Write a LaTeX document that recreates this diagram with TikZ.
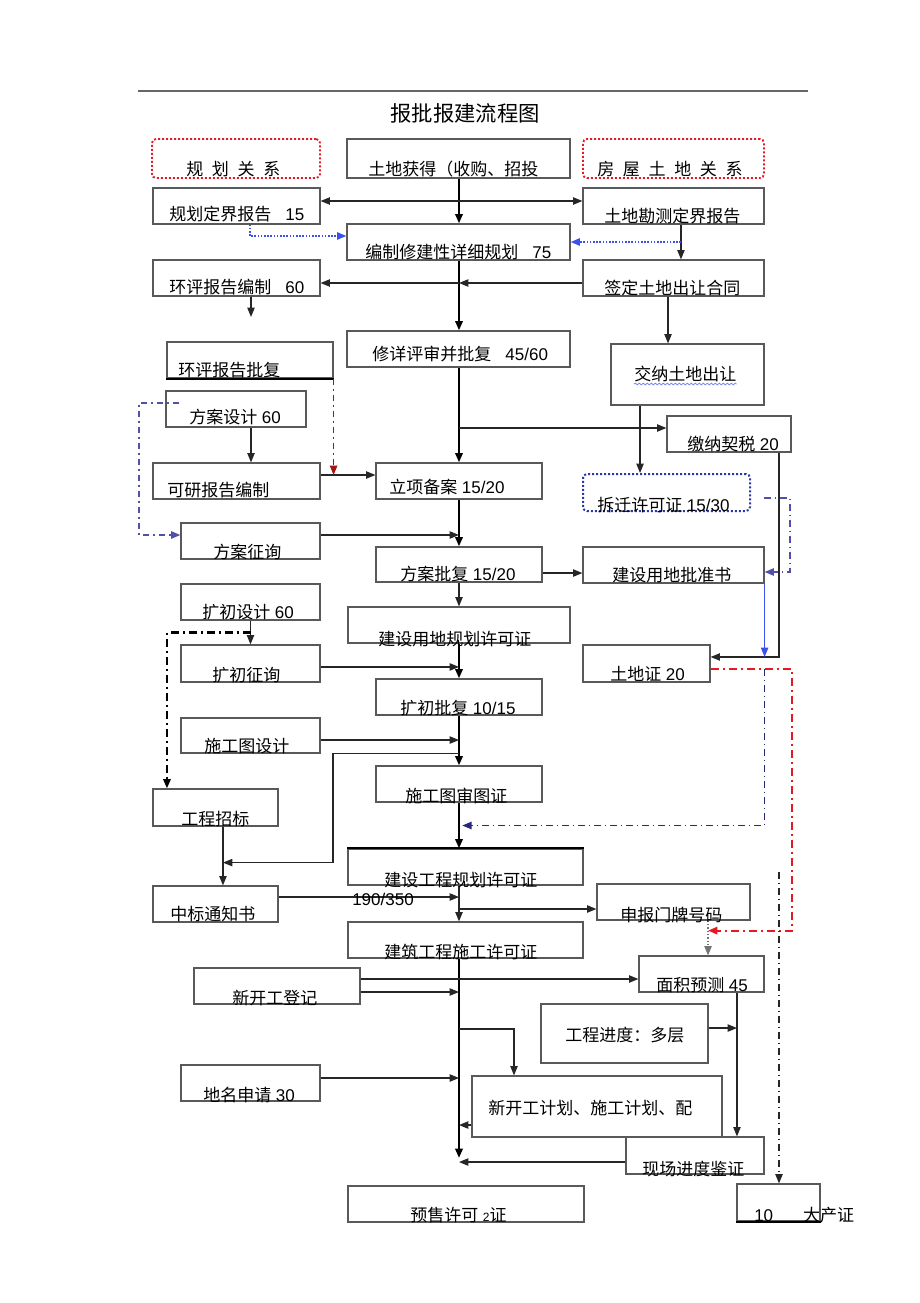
\documentclass[tikz,border=0pt]{standalone}
\usepackage{fontspec}
\setmainfont{Liberation Sans}
\newfontfamily\cjk{Noto Sans CJK SC}
\usetikzlibrary{arrows.meta, calc, fit, decorations.pathmorphing}

\definecolor{flowred}{RGB}{230,25,35}
\definecolor{darkred}{RGB}{165,20,20}
\definecolor{dotblue}{RGB}{60,80,235}
\definecolor{slateblue}{RGB}{80,80,170}
\definecolor{navy}{RGB}{40,40,120}

\newcommand\dig[1]{{\rmfamily #1}}

\begin{document}
\begin{tikzpicture}[x=0.75pt, y=-0.75pt,
    >={Triangle[length=7pt,width=5.5pt]},
    box/.style={draw=black!65, line width=0.9pt, inner sep=0pt},
    redbox/.style={draw=flowred, line width=1.4pt, dash pattern=on 1.5pt off 1.5pt, rounded corners=3pt, inner sep=0pt},
    bluebox/.style={draw=dotblue!70!black, line width=1.5pt, dash pattern=on 1.5pt off 1.5pt, rounded corners=3pt, inner sep=0pt},
    lbl/.style={font=\cjk\fontsize{12.75}{15}\selectfont, inner sep=0pt, anchor=base west},
    heading/.style={font=\cjk\fontsize{16}{19}\selectfont, inner sep=0pt, anchor=base},
    arr/.style={draw=black!85, line width=0.9pt, ->},
    spine/.style={draw=black, line width=1.7pt, ->},
    bluedot/.style={draw=dotblue, line width=1.2pt, dash pattern=on 1.2pt off 1.2pt, ->},
    blueline/.style={draw=dotblue, line width=1pt, ->},
    bluedd/.style={draw=slateblue, line width=1.2pt, dash pattern=on 5pt off 3pt on 1pt off 3pt, ->},
    navydd/.style={draw=navy, line width=1.2pt, dash pattern=on 5pt off 3pt on 1pt off 3pt, ->},
    reddd/.style={draw=flowred, line width=1.6pt, dash pattern=on 6pt off 3pt on 1.5pt off 3pt, ->},
    darkreddd/.style={draw=darkred, line width=1.2pt, dash pattern=on 5pt off 3pt on 1pt off 3pt, ->},
    blackdd/.style={draw=black, line width=1.8pt, dash pattern=on 6pt off 3pt on 1.5pt off 3pt, ->},
    thindd/.style={draw=black!85, line width=1pt, dash pattern=on 5pt off 3pt on 1pt off 3pt, ->},
    greydot/.style={draw=black!55, line width=1pt, dash pattern=on 1pt off 1.5pt, ->},
    wavy/.style={draw=dotblue!70, line width=0.6pt, decorate, decoration={snake, amplitude=0.6pt, segment length=3pt}}]

  \useasboundingbox (0,0) rectangle (920,1303);

  % ====== HEADER ======
  \draw[black!60, line width=0.8pt] (138,91) -- (808,91);
  \node[heading] (title) at (465,121) {报批报建流程图};

  % ====== BOXES ======
  \foreach \n/\xa/\ya/\xb/\yb in {tdhd/347/139/570/178, ghdj/153/188/320/224, kcdj/583/188/764/224,
      xxgh/347/224/570/260, hpbz/153/260/320/296, qdht/583/260/764/296, xxps/347/331/570/367,
      hppf/167/342/333/378, jnzr/611/344/764/405, fasj/166/391/306/427, jnqs/667/416/791/452,
      kybg/153/463/320/499, lxba/376/463/542/499, fazx/181/523/320/559, fapf/376/547/542/582,
      pzs/583/547/764/583, kcsj/181/584/320/620, ydgh/348/607/570/643, kczx/181/645/320/682,
      tdz/583/645/710/682, kcpf/376/679/542/715, sgsj/181/718/320/753, sgsc/376/766/542/802,
      gczb/153/789/278/826, gcgh/348/849/583/885, zbtz/153/886/278/922, mpnum/597/884/750/920,
      sgxk/348/922/583/958, mjyc/639/956/764/992, xkgdj/194/968/360/1004, gcjd/541/1004/708/1063,
      dmsq/181/1065/320/1101, xkgjh/472/1076/722/1137, xcjd/626/1137/764/1174,
      ysxk/348/1186/584/1222, dcz/737/1184/820/1221}
    \node[box, fit={(\xa,\ya) (\xb,\yb)}] (\n) {};

  % dotted frames
  \node[redbox, fit={(152,139) (320,178)}] (ghgx) {};
  \node[redbox, fit={(583,139) (764,178)}] (fwgx) {};
  \node[bluebox, fit={(583,474) (750,511)}] (cqxk) {};

  % heavier edges
  \draw[line width=1.4pt] (hppf.south west) -- (hppf.south east);
  \draw[line width=1.4pt] (gcgh.north west) -- (gcgh.north east);
  \draw[line width=1.4pt] (dcz.south west) -- (dcz.south east);

  % ====== MAIN SPINE ======
  \coordinate (spine) at (459,0);
  \foreach \a/\b in {tdhd/xxgh, xxgh/xxps, xxps/lxba, lxba/fapf, ydgh/kcpf, kcpf/sgsc, sgsc/gcgh}
    \draw[spine] (\a.south -| spine) -- (\b.north -| spine);
  \foreach \a/\b in {fapf/ydgh, gcgh/sgxk}
    \draw[arr] (\a.south -| spine) -- (\b.north -| spine);
  \coordinate (spend) at (459,1158);
  \draw[spine] (sgxk.south -| spine) -- (spend);

  % ====== TOP CONNECTORS ======
  \draw[arr, <->] ([yshift=3.75pt]ghdj.east) -- ([yshift=3.75pt]kcdj.west);
  \draw[bluedot] ([xshift=10pt]ghdj.south) |- ([yshift=4.5pt]xxgh.west);
  \coordinate (kcdown) at ([xshift=5.6pt]kcdj.south);
  \draw[arr] (kcdown) -- (kcdown |- qdht.north);
  \draw[bluedot] (kcdown |- xxgh.east) -- (xxgh.east);

  \coordinate (qdleft) at ([yshift=-3.75pt]qdht.west);
  \draw[arr] (qdleft) -- (qdleft -| spine);
  \draw[arr] (qdleft -| spine) -- (qdleft -| hpbz.east);
  \coordinate (hpbzend) at (251,317);
  \draw[arr] (hpbz.south -| hpbzend) -- (hpbzend);
  \draw[arr] ([xshift=-4.1pt]qdht.south) -- ([xshift=-4.1pt]qdht.south |- jnzr.north);

  \draw[arr] ([yshift=4.5pt]jnqs.west -| spine) -- ([yshift=4.5pt]jnqs.west);
  \draw[arr] ([xshift=-35.6pt]jnzr.south) -- ([xshift=-35.6pt]jnzr.south |- cqxk.north);

  % ====== LEFT COLUMN ======
  \coordinate (kylx) at ([yshift=4.5pt]kybg.east);
  \draw[arr] (kylx) -- (kylx -| lxba.west);
  \draw[darkreddd] (hppf.south east) -- (hppf.south east |- kylx);
  \coordinate (bluel) at (139,470);
  \draw[bluedd] ([xshift=10.5pt,yshift=4.5pt]fasj.west) -| (bluel) |- ([yshift=4.5pt]fazx.west);
  \draw[arr] ([xshift=11.25pt]fasj.south) -- ([xshift=11.25pt]fasj.south |- kybg.north);
  \draw[arr] ([yshift=4.5pt]fazx.east) -- ([yshift=4.5pt]fazx.east -| spine);

  \draw[arr] (kcsj.south) -- (kczx.north);
  \coordinate (kcmid) at ($(kcsj.south)!0.5!(kczx.north)$);
  \draw[blackdd] (kcmid) -| ([xshift=-36.4pt]gczb.north);
  \draw[arr] ([yshift=-2.6pt]kczx.east) -- ([yshift=-2.6pt]kczx.east -| spine);
  \draw[arr] ([yshift=-3.4pt]sgsj.east) -- ([yshift=-3.4pt]sgsj.east -| spine);

  \coordinate (zbdown) at ([xshift=5.6pt]gczb.south);
  \coordinate (zbx) at (333,800);
  \draw[arr] (zbdown) -- (zbdown |- zbtz.north);
  \draw[arr, line width=0.8pt] (sgsj.south -| spine) -| (zbx) |- ([yshift=-27pt]zbdown);
  \draw[arr] ([yshift=5.25pt]zbtz.east) -- ([yshift=5.25pt]zbtz.east -| spine);

  % ====== RIGHT COLUMN ======
  \coordinate (bluer) at (790,530);
  \draw[bluedd] ([xshift=9.75pt,yshift=-4.1pt]cqxk.east) -| (bluer) |- ([yshift=-5.25pt]pzs.east);
  \draw[arr] ([yshift=-6.4pt]fapf.east) -- ([yshift=-6.4pt]fapf.east -| pzs.west);

  \coordinate (tdzin) at ([yshift=4.9pt]tdz.east);
  \draw[arr, line width=0.8pt] ([xshift=37.5pt]jnqs.south) |- (tdzin);
  \draw[blueline] (pzs.south east) -- (pzs.south east |- tdzin);

  \coordinate (tdzout) at ([yshift=-4.1pt]tdz.east);
  \coordinate (mpdown) at ([xshift=25.9pt]mpnum.south);
  \coordinate (redr) at (792,800);
  \draw[reddd] (tdzout) -| (redr) |- ([yshift=-7.5pt]mpdown);
  \draw[greydot] (mpdown) -- (mpdown |- mjyc.north);

  \coordinate (sgin) at ($(sgsc.south)!0.5!(gcgh.north)$);
  \draw[navydd] (pzs.south east |- tdzout) |- (sgin);

  % ====== BOTTOM ======
  \draw[arr] ([yshift=-5.25pt]mpnum.west -| spine) -- ([yshift=-5.25pt]mpnum.west);
  \draw[arr] ([yshift=5.25pt]xkgdj.east) -- ([yshift=5.25pt]xkgdj.east -| mjyc.west);
  \draw[arr] ([yshift=-4.5pt]xkgdj.east) -- ([yshift=-4.5pt]xkgdj.east -| spine);
  \draw[arr] ([yshift=3.4pt]gcjd.west -| spine) -| ([xshift=-62.25pt]xkgjh.north);

  \coordinate (mjdown) at ([xshift=26.6pt]mjyc.south);
  \draw[arr] (mjdown) -- (mjdown |- xcjd.north);
  \draw[arr] ([yshift=4.1pt]gcjd.east) -- ([yshift=4.1pt]gcjd.east -| mjdown);

  \draw[arr] ([yshift=3.75pt]dmsq.east) -- ([yshift=3.75pt]dmsq.east -| spine);
  \draw[arr] ([yshift=-13.9pt]xkgjh.west) -- ([yshift=-13.9pt]xkgjh.west -| spine);
  \draw[arr] ([yshift=-4.9pt]xcjd.west) -- ([yshift=-4.9pt]xcjd.west -| spine);

  \coordinate (dcztop) at (779,872);
  \draw[thindd] (dcztop) -- (dcztop |- dcz.north);

  % ====== TEXTS ======
  \node[lbl] (ghgx-t) at (186,175) {规\hspace{6.5pt}划\hspace{6.5pt}关\hspace{6.5pt}系};
  \node[lbl] (tdhd-t) at (368,175) {土地获得（收购、招投};
  \node[lbl] (fwgx-t) at (597,175) {房\hspace{6.5pt}屋\hspace{6.5pt}土\hspace{6.5pt}地\hspace{6.5pt}关\hspace{6.5pt}系};
  \node[lbl] (ghdj-t) at (169,220) {规划定界报告\dig{\ \ \ 15}};
  \node[lbl] (kcdj-t) at (604,222) {土地勘测定界报告};
  \node[lbl] (xxgh-t) at (365,258) {编制修建性详细规划\dig{\ \ \ 75}};
  \node[lbl] (hpbz-t) at (169,293) {环评报告编制\dig{\ \ \ 60}};
  \node[lbl] (qdht-t) at (604,294) {签定土地出让合同};
  \node[lbl] (xxps-t) at (372,360) {修详评审并批复\dig{\ \ \ 45/60}};
  \node[lbl] (hppf-t) at (178,376) {环评报告批复};
  \node[lbl] (jnzr-t) at (634,380) {交纳土地出让};
  \draw[wavy] ([yshift=-3pt]jnzr-t.base west) -- ([yshift=-3pt]jnzr-t.base east);
  \node[lbl] (fasj-t) at (189,423) {方案设计\dig{\ 60}};
  \node[lbl] (jnqs-t) at (687,450) {缴纳契税\dig{\ 20}};
  \node[lbl] (kybg-t) at (167,496) {可研报告编制};
  \node[lbl] (lxba-t) at (389,493) {立项备案\dig{\ 15/20}};
  \node[lbl] (cqxk-t) at (597,511) {拆迁许可证\dig{\ 15/30}};
  \node[lbl] (fazx-t) at (213,558) {方案征询};
  \node[lbl] (fapf-t) at (400,580) {方案批复\dig{\ 15/20}};
  \node[lbl] (pzs-t) at (612,581) {建设用地批准书};
  \node[lbl] (kcsj-t) at (202,618) {扩初设计\dig{\ 60}};
  \node[lbl] (ydgh-t) at (378,645) {建设用地规划许可证};
  \node[lbl] (kczx-t) at (212,681) {扩初征询};
  \node[lbl] (tdz-t) at (610,680) {土地证\dig{\ 20}};
  \node[lbl] (kcpf-t) at (400,714) {扩初批复\dig{\ 10/15}};
  \node[lbl] (sgsj-t) at (204,752) {施工图设计};
  \node[lbl] (sgsc-t) at (405,802) {施工图审图证};
  \node[lbl] (gczb-t) at (181,825) {工程招标};
  \node[lbl] (gcgh-t) at (384,886) {建设工程规划许可证};
  \node[lbl] (gcgh-n) at (352,905) {\dig{190/350}};
  \node[lbl] (zbtz-t) at (170,920) {中标通知书};
  \node[lbl] (mpnum-t) at (620,921) {申报门牌号码};
  \node[lbl] (sgxk-t) at (384,958) {建筑工程施工许可证};
  \node[lbl] (mjyc-t) at (656,991) {面积预测\dig{\ 45}};
  \node[lbl] (xkgdj-t) at (232,1004) {新开工登记};
  \node[lbl] (gcjd-t) at (565,1041) {工程进度：多层};
  \node[lbl] (dmsq-t) at (203,1101) {地名申请\dig{\ 30}};
  \node[lbl] (xkgjh-t) at (488,1114) {新开工计划、施工计划、配};
  \node[lbl] (xcjd-t) at (642,1175) {现场进度鉴证};
  \node[lbl] (ysxk-t) at (410,1221) {预售许可\dig{\ \fontsize{9}{10}\selectfont 2}证};
  \node[lbl] (dcz-t) at (754,1221) {\dig{10}\hspace{22.5pt}大产证};

\end{tikzpicture}
\end{document}
